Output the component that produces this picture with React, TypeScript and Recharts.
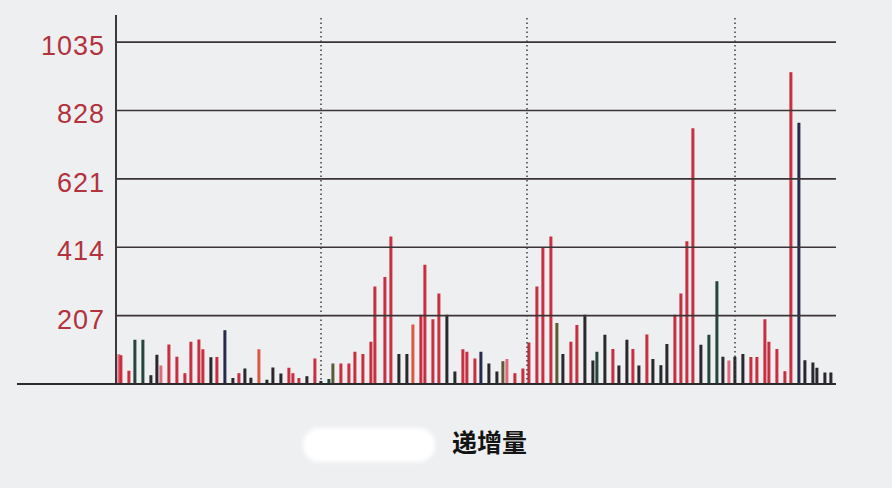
import { BarChart, Bar, XAxis, YAxis, ReferenceLine, Cell } from 'recharts'

// sequence slots along the x axis (fine grid, 360 slots)
const SLOTS = 360
const slot = [
  1, 2, 6, 9, 13, 17, 20, 22, 26, 30, 34, 37, 41, 43, 47, 50, 54, 58, 61, 64, 67, 71, 75, 78, 82, 86, 88, 91, 95, 99,
  102, 106, 108, 112, 116, 119, 123, 127, 129, 134, 137, 141, 145, 148, 152, 154, 158, 161, 165, 169, 173, 175, 179, 182, 186, 190, 193, 195, 199, 203,
  206, 210, 213, 217, 220, 223, 227, 230, 234, 238, 240, 244, 248, 251, 255, 258, 261, 265, 268, 272, 275, 279, 282, 285, 288, 292, 296, 300, 303, 306,
  309, 313, 317, 320, 324, 326, 330, 334, 337, 341, 344, 348, 350, 354, 357,
]
const increment = [
  88, 85, 38, 132, 132, 25, 87, 54, 118, 81, 31, 126, 133, 103, 79, 80, 161, 16, 31, 45, 17, 103, 11, 48, 30, 47, 31, 16, 22, 75,
  7, 13, 60, 60, 60, 96, 89, 126, 293, 322, 445, 89, 89, 178, 208, 359, 194, 272, 208, 36, 103, 96, 75, 96, 60, 36, 67, 74, 31, 45,
  124, 293, 412, 445, 183, 89, 126, 177, 208, 69, 96, 147, 104, 54, 132, 104, 54, 148, 74, 55, 119, 208, 272, 430, 772, 117, 147, 309, 81, 69,
  81, 89, 80, 80, 194, 126, 104, 37, 942, 789, 70, 63, 47, 33, 33,
]
const tone = [
  'p', 'r', 'r', 'g', 'g', 'k', 'k', 'p', 'r', 'r', 'r', 'r', 'r', 'r', 'k', 'r', 'n', 'k', 'r', 'k', 'k', 'o', 'k', 'k', 'k', 'r', 'r', 'r', 'k', 'r',
  'k', 'g', 'v', 'r', 'r', 'r', 'r', 'r', 'r', 'r', 'r', 'k', 'k', 'o', 'r', 'r', 'r', 'r', 'k', 'k', 'r', 'r', 'r', 'n', 'k', 'k', 'v', 'p', 'r', 'r',
  'r', 'r', 'r', 'r', 'v', 'k', 'r', 'r', 'k', 'k', 'g', 'k', 'r', 'k', 'k', 'r', 'k', 'r', 'k', 'k', 'k', 'r', 'r', 'r', 'r', 'k', 'g', 'g', 'k', 'p',
  'k', 'k', 'r', 'r', 'r', 'r', 'r', 'r', 'r', 'n', 'k', 'k', 'k', 'k', 'k',
]
const yTicks = [207, 414, 621, 828, 1035]
const dividers = [102, 205, 309]

const palette: Record<string, string> = {
  r: '#c92c3e',
  p: '#e2677a',
  o: '#da5644',
  k: '#26262a',
  g: '#22443a',
  n: '#24284a',
  v: '#5a5932',
}

const rows = Array.from({ length: SLOTS }, (_, t) => ({ t, v: 0, c: 'none' }))
slot.forEach((s, i) => {
  rows[s].v = increment[i]
  rows[s].c = palette[tone[i]]
})

const YTick = ({ x, y, payload }: any) => (
  <text x={x - 3} y={y} dy={13} textAnchor="end" fill="#b2323d" fontSize={27} letterSpacing={1} fontFamily="Liberation Sans, Arial, sans-serif">
    {payload.value}
  </text>
)

export default function App() {
  return (
    <div style={{ position: 'relative', width: 892, height: 488, background: '#eeeff1', overflow: 'hidden' }}>
      <style>{'body{margin:0}'}</style>
      <BarChart width={892} height={488} data={rows} margin={{ top: 15, right: 56, left: 0, bottom: 104 }}>
        <XAxis dataKey="t" hide />
        <YAxis
          width={116}
          domain={[0, 1117]}
          ticks={yTicks}
          tickLine={false}
          axisLine={{ stroke: '#3a3a3a', strokeWidth: 2 }}
          tick={<YTick />}
          interval={0}
        />
        {yTicks.map(v => (
          <ReferenceLine key={'g' + v} y={v} stroke="#3a3436" strokeWidth={1.6} />
        ))}
        {dividers.map(d => (
          <ReferenceLine key={d} x={d} stroke="#3e3e3e" strokeWidth={1.5} strokeDasharray="1.5 3" />
        ))}
        <Bar dataKey="v" barSize={3} isAnimationActive={false}>
          {rows.map(r => (
            <Cell key={r.t} fill={r.c} stroke={r.c} strokeWidth={1.2} />
          ))}
        </Bar>
      </BarChart>
      <div style={{ position: 'absolute', left: 17, top: 383, width: 819, height: 2, background: '#2b2b2b' }} />
      <div style={{ position: 'absolute', left: 303, top: 428, width: 132, height: 34, background: '#fff', borderRadius: 16, filter: 'blur(2px)' }} />
      <div style={{ position: 'absolute', left: 452, top: 423, fontSize: 25, fontWeight: 700, color: '#141414', fontFamily: 'Noto Sans CJK SC, sans-serif' }}>
        递增量
      </div>
    </div>
  )
}
